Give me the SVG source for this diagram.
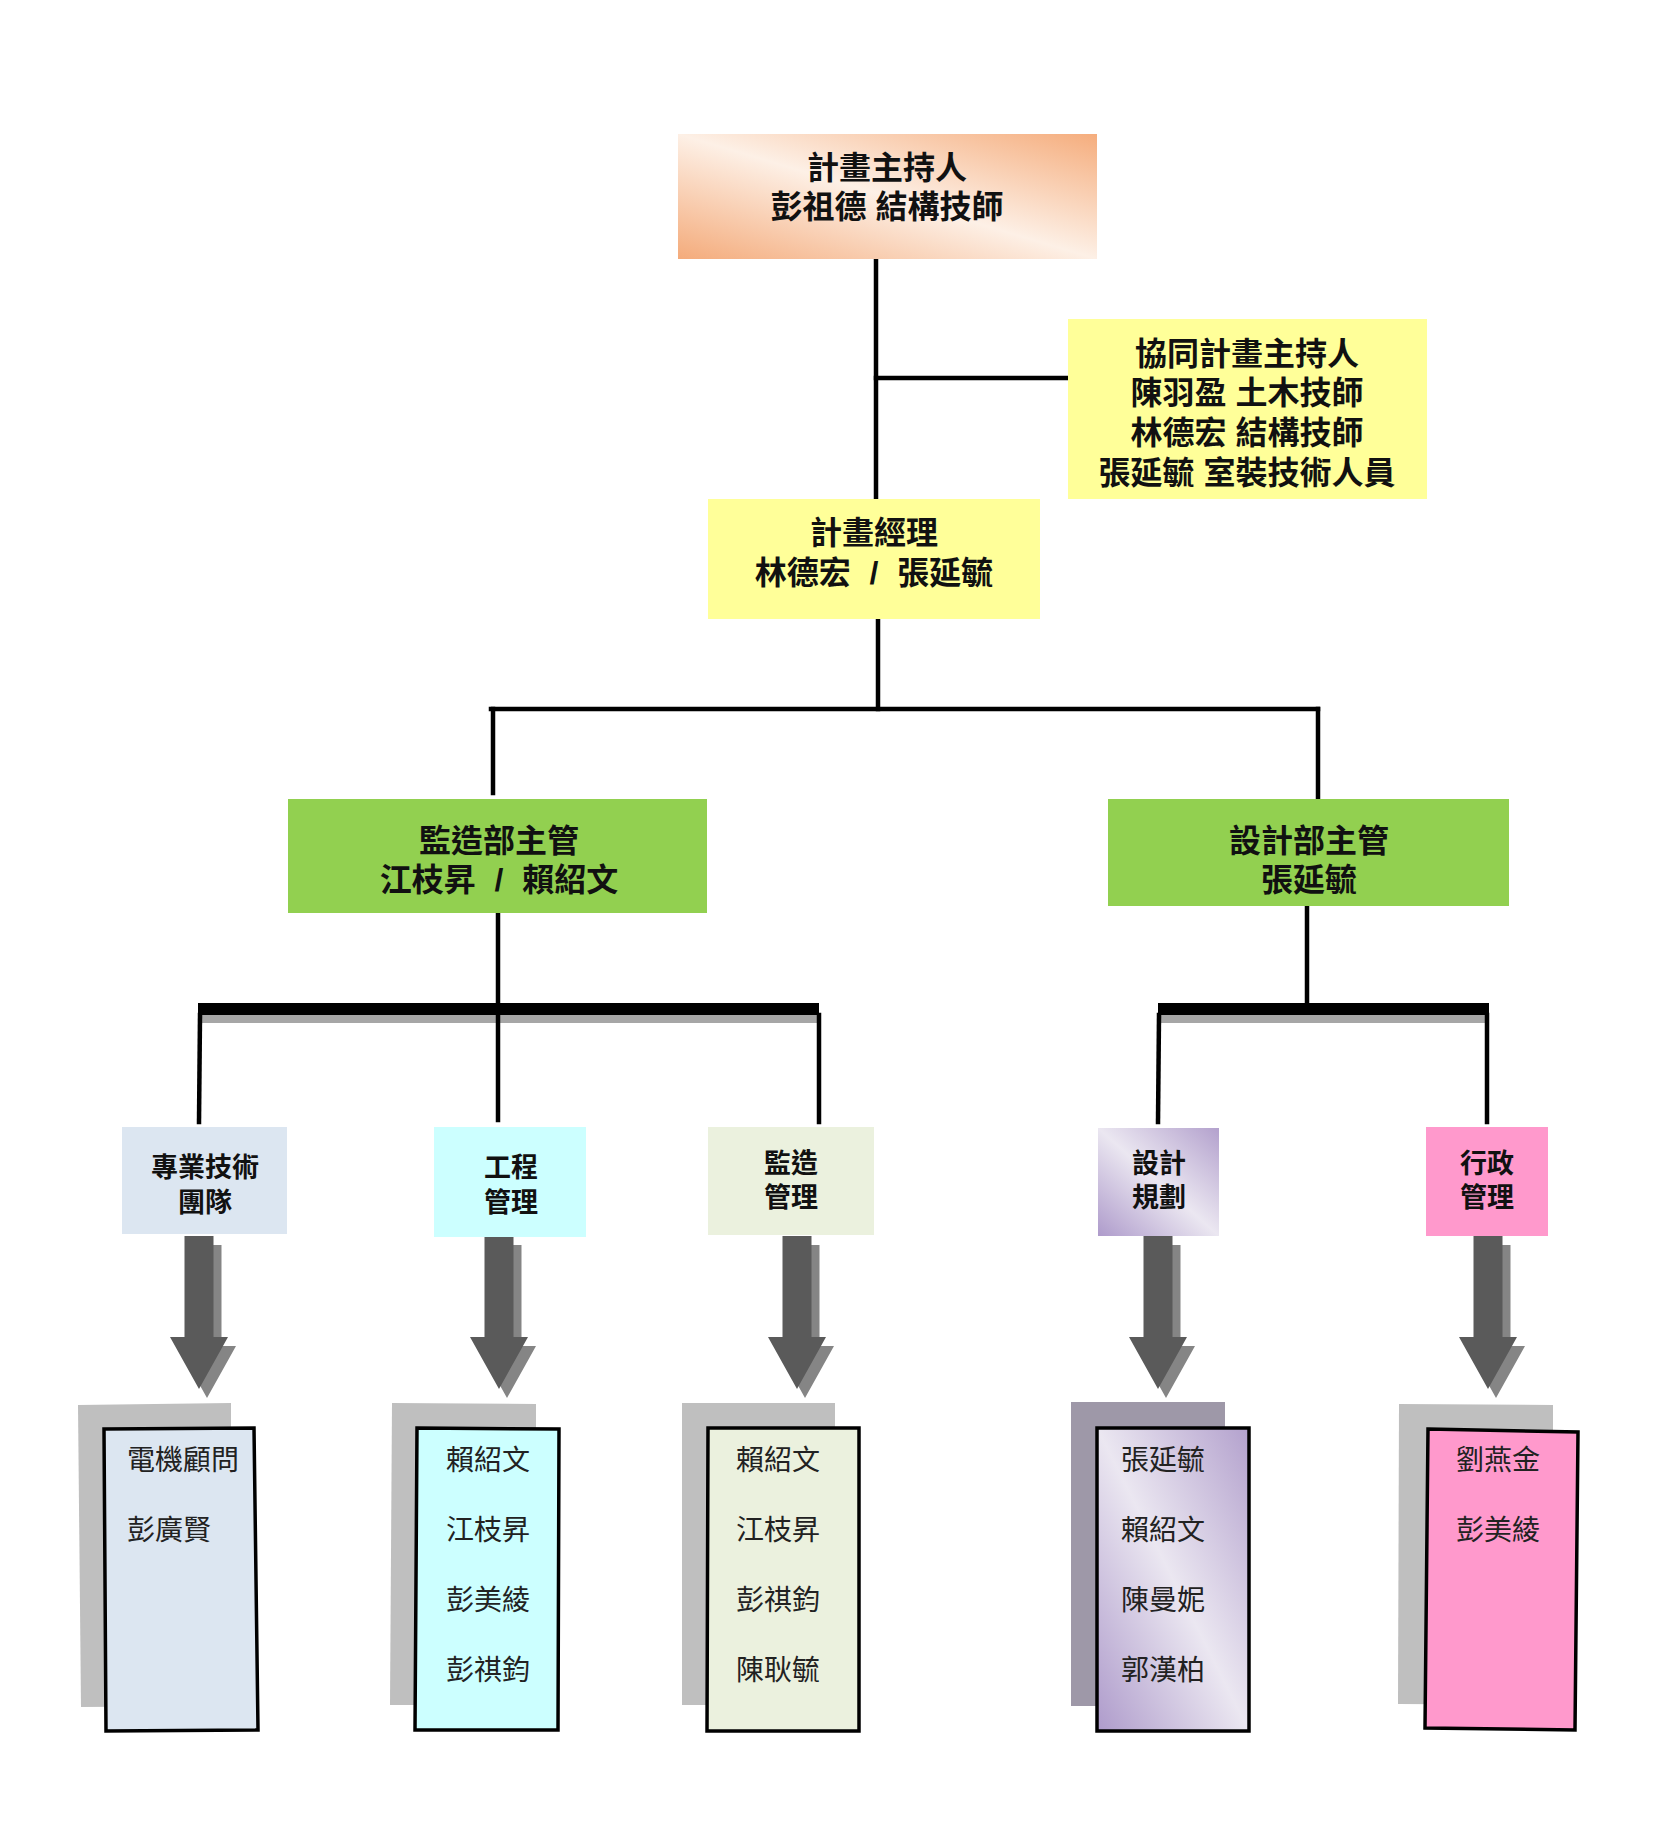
<svg xmlns="http://www.w3.org/2000/svg" width="1668" height="1824" viewBox="0 0 1668 1824">
<style>
.ln{stroke:#000;stroke-width:4.5;fill:none;stroke-linecap:square}
.t1{font-family:"Liberation Sans","Noto Sans CJK TC","Noto Sans CJK SC",sans-serif;font-size:32px;font-weight:700;text-anchor:middle;fill:#111}
.t2{font-family:"Liberation Sans","Noto Sans CJK TC","Noto Sans CJK SC",sans-serif;font-size:27px;font-weight:700;text-anchor:middle;fill:#111}
.t3{font-family:"Liberation Sans","Noto Sans CJK TC","Noto Sans CJK SC",sans-serif;font-size:28px;font-weight:400;fill:#222}
.arr{fill:#5a5a5a}
.arrs{fill:#858585}
.fr{stroke:#000;stroke-width:3.5}
.sh{fill:#bfbfbf}
.sh2{fill:#9e98a8}
</style>
<defs>
<linearGradient id="gPeach" x1="1" y1="0" x2="0" y2="1">
<stop offset="0" stop-color="#f5ad7d"/>
<stop offset="0.5" stop-color="#fdf0e6"/>
<stop offset="1" stop-color="#f4ab7b"/>
</linearGradient>
<linearGradient id="gLav" x1="1" y1="0" x2="0" y2="1">
<stop offset="0" stop-color="#b3a1cd"/>
<stop offset="0.5" stop-color="#ebe7f1"/>
<stop offset="1" stop-color="#ae9bcb"/>
</linearGradient>
<path id="arw" d="M-14.5 0 H14.5 V101 H29 L0 153 L-29 101 H-14.5 Z"/>
</defs>
<rect width="1668" height="1824" fill="#fff"/>

<g id="connectors">
<line class="ln" x1="876" y1="259" x2="876" y2="499"/>
<line class="ln" x1="876" y1="378" x2="1068" y2="378"/>
<line class="ln" x1="878" y1="619" x2="878" y2="709"/>
<line class="ln" x1="491" y1="709" x2="1318" y2="709"/>
<line class="ln" x1="493" y1="709" x2="493" y2="793"/>
<line class="ln" x1="1318" y1="709" x2="1318" y2="799"/>
<line class="ln" x1="498" y1="913" x2="498" y2="1003"/>
<line class="ln" x1="1307" y1="906" x2="1307" y2="1003"/>
<rect x="200" y="1015" width="619" height="8" fill="#a6a6a6"/>
<rect x="198" y="1003" width="621" height="12" fill="#000"/>
<rect x="1160" y="1015" width="329" height="8" fill="#a6a6a6"/>
<rect x="1158" y="1003" width="331" height="12" fill="#000"/>
<line class="ln" x1="200" y1="1015" x2="199" y2="1122"/>
<line class="ln" x1="498" y1="1015" x2="498" y2="1120"/>
<line class="ln" x1="819" y1="1015" x2="819" y2="1122"/>
<line class="ln" x1="1159" y1="1015" x2="1158" y2="1122"/>
<line class="ln" x1="1487" y1="1015" x2="1487" y2="1122"/>
<use href="#arw" x="207" y="1245" class="arrs"/>
<use href="#arw" x="199" y="1236" class="arr"/>
<use href="#arw" x="507" y="1245" class="arrs"/>
<use href="#arw" x="499" y="1236" class="arr"/>
<use href="#arw" x="805" y="1245" class="arrs"/>
<use href="#arw" x="797" y="1236" class="arr"/>
<use href="#arw" x="1166" y="1245" class="arrs"/>
<use href="#arw" x="1158" y="1236" class="arr"/>
<use href="#arw" x="1496" y="1245" class="arrs"/>
<use href="#arw" x="1488" y="1236" class="arr"/>
</g>

<g id="node-host">
<rect x="678" y="134" width="419" height="125" fill="url(#gPeach)"/>
<text class="t1" x="887" y="179">計畫主持人</text>
<text class="t1" x="887" y="218">彭祖德 結構技師</text>
</g>

<g id="node-cohost">
<rect x="1068" y="319" width="359" height="180" fill="#ffff99"/>
<text class="t1" x="1247" y="365">協同計畫主持人</text>
<text class="t1" x="1247" y="404">陳羽盈 土木技師</text>
<text class="t1" x="1247" y="444">林德宏 結構技師</text>
<text class="t1" x="1247" y="484">張延毓 室裝技術人員</text>
</g>

<g id="node-pm">
<rect x="708" y="499" width="332" height="120" fill="#ffff99"/>
<text class="t1" x="874" y="544">計畫經理</text>
<text class="t1" x="874" y="584" word-spacing="10">林德宏 / 張延毓</text>
</g>

<g id="node-supervision-head">
<rect x="288" y="799" width="419" height="114" fill="#92d050"/>
<text class="t1" x="499" y="852">監造部主管</text>
<text class="t1" x="499" y="891" word-spacing="10">江枝昇 / 賴紹文</text>
</g>

<g id="node-design-head">
<rect x="1108" y="799" width="401" height="107" fill="#92d050"/>
<text class="t1" x="1309" y="852">設計部主管</text>
<text class="t1" x="1309" y="891">張延毓</text>
</g>

<g id="node-tech-team">
<rect x="122" y="1127" width="165" height="107" fill="#dce6f1"/>
<text class="t2" x="205" y="1177">專業技術</text>
<text class="t2" x="205" y="1212">團隊</text>
</g>

<g id="node-eng-mgmt">
<rect x="434" y="1127" width="152" height="110" fill="#ccffff"/>
<text class="t2" x="511" y="1177">工程</text>
<text class="t2" x="511" y="1212">管理</text>
</g>

<g id="node-sup-mgmt">
<rect x="708" y="1127" width="166" height="108" fill="#ebf1de"/>
<text class="t2" x="791" y="1173">監造</text>
<text class="t2" x="791" y="1207">管理</text>
</g>

<g id="node-design-plan">
<rect x="1098" y="1128" width="121" height="108" fill="url(#gLav)"/>
<text class="t2" x="1159" y="1173">設計</text>
<text class="t2" x="1159" y="1207">規劃</text>
</g>

<g id="node-admin">
<rect x="1426" y="1127" width="122" height="109" fill="#ff99cc"/>
<text class="t2" x="1487" y="1173">行政</text>
<text class="t2" x="1487" y="1207">管理</text>
</g>

<g id="node-tech-members">
<polygon class="sh" points="78,1405 231,1403 231,1706 81,1707"/>
<polygon class="fr" fill="#dce6f1" points="104,1429 254,1428 258,1730 106,1731"/>
<text class="t3" x="127" y="1470">電機顧問</text>
<text class="t3" x="127" y="1540">彭廣賢</text>
</g>

<g id="node-eng-members">
<polygon class="sh" points="392,1403 536,1404 536,1705 390,1705"/>
<polygon class="fr" fill="#ccffff" points="417,1428 559,1429 558,1730 415,1730"/>
<text class="t3" x="446" y="1470">賴紹文</text>
<text class="t3" x="446" y="1540">江枝昇</text>
<text class="t3" x="446" y="1610">彭美綾</text>
<text class="t3" x="446" y="1680">彭祺鈞</text>
</g>

<g id="node-sup-members">
<polygon class="sh" points="682,1403 835,1403 835,1705 682,1705"/>
<polygon class="fr" fill="#ebf1de" points="708,1428 859,1428 859,1731 707,1731"/>
<text class="t3" x="736" y="1470">賴紹文</text>
<text class="t3" x="736" y="1540">江枝昇</text>
<text class="t3" x="736" y="1610">彭祺鈞</text>
<text class="t3" x="736" y="1680">陳耿毓</text>
</g>

<g id="node-design-members">
<polygon class="sh2" points="1071,1402 1225,1402 1225,1706 1071,1706"/>
<polygon class="fr" fill="url(#gLav)" points="1097,1428 1249,1428 1249,1731 1097,1731"/>
<text class="t3" x="1121" y="1470">張延毓</text>
<text class="t3" x="1121" y="1540">賴紹文</text>
<text class="t3" x="1121" y="1610">陳曼妮</text>
<text class="t3" x="1121" y="1680">郭漢柏</text>
</g>

<g id="node-admin-members">
<polygon class="sh" points="1399,1404 1553,1405 1553,1705 1398,1704"/>
<polygon class="fr" fill="#ff99cc" points="1428,1429 1578,1432 1575,1730 1425,1728"/>
<text class="t3" x="1456" y="1470">劉燕金</text>
<text class="t3" x="1456" y="1540">彭美綾</text>
</g>
</svg>
